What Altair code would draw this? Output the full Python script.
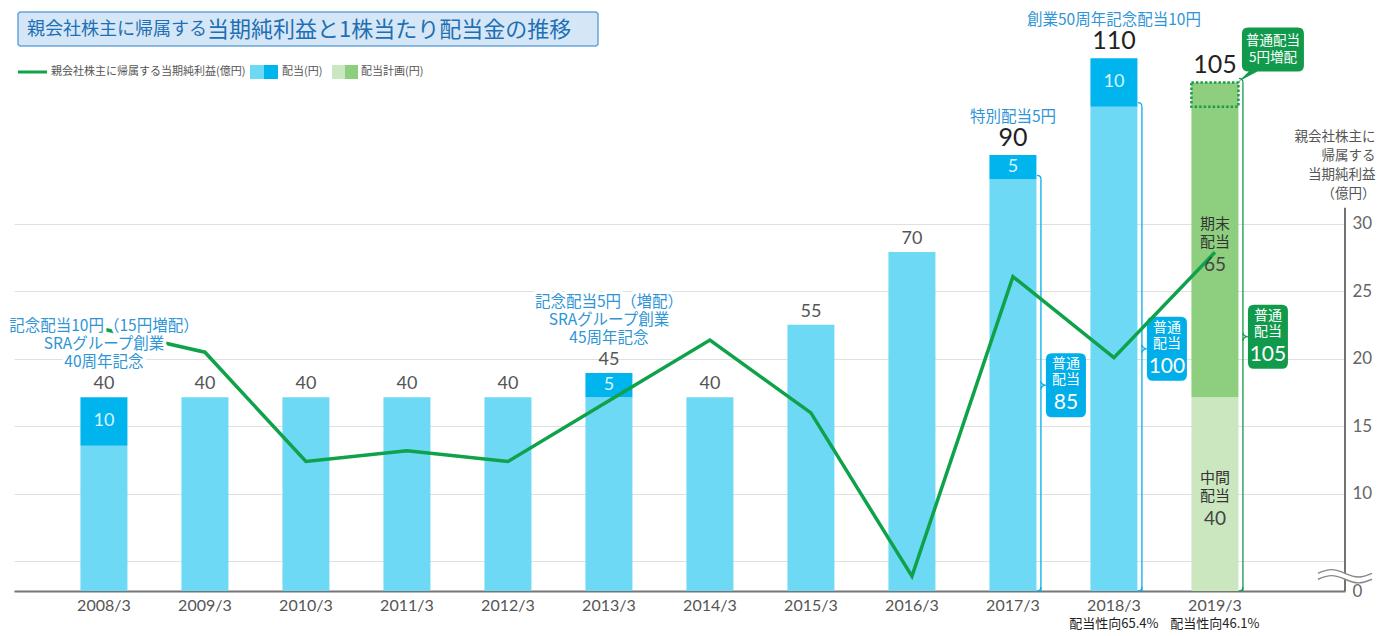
import altair as alt
import pandas as pd

# ---------------- data ----------------
years = ["2008/3", "2009/3", "2010/3", "2011/3", "2012/3", "2013/3",
         "2014/3", "2015/3", "2016/3", "2017/3", "2018/3", "2019/3"]
div_regular = [30, 40, 40, 40, 40, 40, 40, 55, 70, 85, 100, 0]      # 配当(円) 普通
div_special = [10, 0, 0, 0, 0, 5, 0, 0, 0, 5, 10, 0]                # 記念・特別配当(円)
plan_interim = [0, 0, 0, 0, 0, 0, 0, 0, 0, 0, 0, 40]                # 配当計画 中間
plan_final = [0, 0, 0, 0, 0, 0, 0, 0, 0, 0, 0, 65]                  # 配当計画 期末
net_income = [22.2, 20.5, 12.4, 13.2, 12.4, 16.9, 21.4, 16.0, 3.9, 26.1, 20.1, 27.9]  # 億円

note_years = ["2008/3", "2013/3", "2017/3", "2018/3"]
note_texts = ["記念配当10円（15円増配）\nSRAグループ創業\n40周年記念",
              "記念配当5円（増配）\nSRAグループ創業\n45周年記念",
              "特別配当5円",
              "創業50周年記念配当10円"]
regular_years = ["2017/3", "2018/3", "2019/3"]
payout_years = ["2018/3", "2019/3"]
payout_texts = ["配当性向65.4%", "配当性向46.1%"]
badge_word = "普通\n配当"
increase_text = "普通配当\n5円増配"
interim_word = "中間\n配当"
final_word = "期末\n配当"
seg_names = ["配当", "記念・特別配当", "中間配当（計画）", "期末配当（計画）"]
title_a = "親会社株主に帰属する"
title_b = "当期純利益と1株当たり配当金の推移"
legend_texts = ["親会社株主に帰属する当期純利益(億円)", "配当(円)", "配当計画(円)"]
axis_title = ["親会社株主に", "帰属する", "当期純利益", "（億円）"]

# ---------------- derived tables ----------------
totals = [a + b + c + d for a, b, c, d in zip(div_regular, div_special, plan_interim, plan_final)]
plan_year = [y for y, v in zip(years, plan_interim) if v > 0][0]

rows = []
for i, y in enumerate(years):
    for k, arr in enumerate([div_regular, div_special, plan_interim, plan_final]):
        if arr[i] > 0:
            rows.append(dict(year=y, seg=seg_names[k], value=arr[i], ord=k))
seg_df = pd.DataFrame(rows)

tot_df = pd.DataFrame(dict(year=years, total=totals))
spec_df = pd.DataFrame([dict(year=y, mid=totals[i] - div_special[i] / 2, t=str(div_special[i]))
                        for i, y in enumerate(years) if div_special[i] > 0])
pi = years.index(plan_year)
plan_df = pd.DataFrame([
    dict(year=plan_year, mid=plan_interim[pi] / 2, w=interim_word, t=str(plan_interim[pi])),
    dict(year=plan_year, mid=plan_interim[pi] + plan_final[pi] / 2, w=final_word, t=str(plan_final[pi])),
])
badge_rows = []
for y in regular_years:
    i = years.index(y)
    top = div_regular[i] if y != plan_year else totals[i]
    badge_rows.append(dict(year=y, top=top, mid=top / 2, label=str(top),
                           kind="plan" if y == plan_year else "actual"))
badge_df = pd.DataFrame(badge_rows)
prev_regular = div_regular[pi - 1]
dot_df = pd.DataFrame([dict(year=plan_year, lo=prev_regular, hi=totals[pi], total=totals[pi], t=increase_text)])
note_df = pd.DataFrame([dict(year=y, note=t, n=t.count("\n") + 1, total=totals[years.index(y)])
                        for y, t in zip(note_years, note_texts)])
ni_df = pd.DataFrame(dict(year=years, ni=net_income))
pay_df = pd.DataFrame(dict(year=payout_years, t=payout_texts))
one = pd.DataFrame({"k": [0]})

# ---------------- style ----------------
JP = "Noto Sans CJK JP"
NUM = "Lato"
W, H = 1331, 579
BLUE_L, BLUE_D, GREEN_L, GREEN_M = "#6dd9f5", "#00b4ee", "#cbe7bf", "#8ecf7f"
LINE_G = "#0ea24a"
BADGE_B, BADGE_G = "#00aeea", "#129a4c"
NOTE = "#2f95d6"

xsc = alt.Scale(domain=years, paddingInner=0.5347, paddingOuter=0.8565, align=0.384)
ybar = alt.Scale(domain=[0, 119.55], nice=False, zero=True)
yright = alt.Scale(domain=[2.81, 45.7], nice=False, zero=False)
kind_sc = alt.Scale(domain=["actual", "plan"], range=[BADGE_B, BADGE_G])

xaxis = alt.Axis(labelFont=NUM, labelFontSize=16, labelColor="#555", labelPadding=6,
                 ticks=False, domainColor="#777", domainWidth=2, grid=False, labelAngle=0, title=None)
right_axis = alt.Axis(orient="right", values=[2.81, 5, 10, 15, 20, 25, 30],
                      labelExpr="datum.value < 4 ? '0' : (datum.value == 5 ? '' : datum.label)",
                      grid=True, gridColor="#e0e0e0", gridWidth=1, domain=False, ticks=False,
                      labelFont=NUM, labelFontSize=17, labelColor="#666", labelPadding=7, labelFlush=False,
                      title=axis_title, titleAngle=0, titleAlign="right", titleBaseline="top",
                      titleX=30, titleY=117, titleFont=JP, titleFontSize=13.5, titleColor="#555",
                      titleFontWeight="normal", titleLineHeight=19)


def XE():
    return alt.X("year:N", scale=xsc, axis=xaxis, title=None)


def YB(field):
    return alt.Y(field, scale=ybar, axis=None)


def YR_datum(v):
    return alt.YDatum(v, type="quantitative", scale=yright, axis=right_axis)


BADGE = ("M-0.4375,-1 L0.4375,-1 Q0.625,-1 0.625,-0.8125 L0.625,0.8125 Q0.625,1 0.4375,1 "
         "L-0.4375,1 Q-0.625,1 -0.625,0.8125 L-0.625,-0.8125 Q-0.625,-1 -0.4375,-1 Z")
TOPBADGE = ("M-0.806,-0.71 L0.806,-0.71 Q1,-0.71 1,-0.516 L1,0.516 Q1,0.71 0.806,0.71 "
            "L-0.5,0.71 L-1.11,1.03 L-0.78,0.71 Q-1,0.71 -1,0.516 L-1,-0.516 Q-1,-0.71 -0.806,-0.71 Z")
CURL_TOP = "M-1,-1 Q0,-1 0,0"
CURL_BOT = "M0,-1 Q0,0 -1,0"
NOTCH = "M0,-1 Q0,-0.3 1,0 Q0,0.3 0,1"
BAND = ("M-1,-0.11 C-0.6,-0.29 -0.4,-0.29 0,-0.11 C0.4,0.07 0.6,0.07 1,-0.11 L1,0.11 "
        "C0.6,0.29 0.4,0.29 0,0.11 C-0.4,-0.07 -0.6,-0.07 -1,0.11 Z")
WAVES = ("M-1,-0.11 C-0.6,-0.29 -0.4,-0.29 0,-0.11 C0.4,0.07 0.6,0.07 1,-0.11 "
         "M-1,0.11 C-0.6,-0.07 -0.4,-0.07 0,0.11 C0.4,0.29 0.6,0.29 1,0.11")

BR_OFF, BADGE_OFF = 28, 53

# ---------------- bar group ----------------
bars = alt.Chart(seg_df).mark_bar().encode(
    x=XE(),
    y=alt.Y("value:Q", stack="zero", scale=ybar, axis=None),
    color=alt.Color("seg:N", scale=alt.Scale(domain=seg_names, range=[BLUE_L, BLUE_D, GREEN_L, GREEN_M]), legend=None),
    order=alt.Order("ord:Q"),
)
dotted = alt.Chart(dot_df).mark_bar(fillOpacity=0, stroke="#1f9a4a", strokeWidth=2.5, strokeDash=[2.5, 2]).encode(
    x=XE(), y=YB("lo:Q"), y2="hi:Q")
bar_base = alt.layer(bars, dotted)

kcol = alt.Color("kind:N", scale=kind_sc, legend=None)
br = alt.Chart(badge_df)
br_rule = br.mark_rule(strokeWidth=1.3, xOffset=BR_OFF).encode(x=XE(), y=YB("top:Q"), y2=alt.datum(0), color=kcol)
br_top = br.mark_point(shape=CURL_TOP, size=64, filled=False, strokeWidth=1.3, opacity=1, xOffset=BR_OFF).encode(
    x=XE(), y=YB("top:Q"), color=kcol)
br_bot = br.mark_point(shape=CURL_BOT, size=64, filled=False, strokeWidth=1.3, opacity=1, xOffset=BR_OFF).encode(
    x=XE(), y=alt.YDatum(0, type="quantitative", scale=ybar, axis=None), color=kcol)
br_notch = br.mark_point(shape=NOTCH, size=64, filled=False, strokeWidth=1.3, opacity=1, xOffset=BR_OFF).encode(
    x=XE(), y=YB("mid:Q"), color=kcol)
badge = br.mark_point(shape=BADGE, size=4096, filled=True, opacity=1, strokeWidth=0, xOffset=BADGE_OFF).encode(
    x=XE(), y=YB("mid:Q"), color=kcol)
badge_t1 = br.mark_text(font=JP, fontSize=14, color="white", lineBreak="\n", lineHeight=16,
                        baseline="middle", dy=-21, xOffset=BADGE_OFF).encode(
    x=XE(), y=YB("mid:Q"), text=alt.value(badge_word))
badge_t2 = br.mark_text(font=NUM, fontSize=21, color="white", baseline="middle", dy=18, xOffset=BADGE_OFF).encode(
    x=XE(), y=YB("mid:Q"), text="label:N")
tb = alt.Chart(dot_df)
top_badge = tb.mark_point(shape=TOPBADGE, size=3844, filled=True, opacity=1, strokeWidth=0, fill=BADGE_G,
                          xOffset=58, yOffset=-33).encode(x=XE(), y=YB("total:Q"))
top_badge_t = tb.mark_text(font=JP, fontSize=13.5, color="white", lineBreak="\n", lineHeight=17,
                           baseline="middle", xOffset=58, dy=-41.5).encode(x=XE(), y=YB("total:Q"), text="t:N")
badge_layer = alt.layer(br_rule, br_top, br_bot, br_notch, badge, badge_t1, badge_t2, top_badge, top_badge_t)

# ---------------- line group (right scale) ----------------
line = alt.Chart(ni_df).mark_line(color=LINE_G, strokeWidth=3.5).encode(
    x=XE(), y=alt.Y("ni:Q", scale=yright, axis=right_axis))
ax_rule = alt.Chart(one).mark_rule(color="#444", strokeWidth=1.5).encode(
    x=alt.value(W), y=YR_datum(31.2), y2=alt.datum(2.81))
brk_fill = alt.Chart(one).mark_point(shape=BAND, size=2916, filled=True, fill="white", opacity=1, strokeWidth=0).encode(
    x=alt.value(W), y=YR_datum(3.9))
brk_wave = alt.Chart(one).mark_point(shape=WAVES, size=2916, filled=False, stroke="#888", strokeWidth=1.4, opacity=1).encode(
    x=alt.value(W), y=YR_datum(3.9))
line_group = alt.layer(line, ax_rule, brk_fill, brk_wave)

# ---------------- labels group ----------------
nt = alt.Chart(note_df)
note_layers = []
for n_lines, dy in [(3, -71), (1, -38)]:
    src = nt.transform_filter(f"datum.n == {n_lines}")
    note_layers.append(src.mark_text(font=JP, fontSize=15.5, lineHeight=18, lineBreak="\n", baseline="middle",
                                     dy=dy, stroke="white", strokeWidth=7, strokeJoin="round", color="white").encode(
        x=XE(), y=YB("total:Q"), text="note:N"))
    note_layers.append(src.mark_text(font=JP, fontSize=15.5, lineHeight=18, lineBreak="\n", baseline="middle",
                                     dy=dy, color=NOTE).encode(x=XE(), y=YB("total:Q"), text="note:N"))
tt = alt.Chart(tot_df)
tot_small = tt.transform_filter("datum.total < 90").mark_text(font=NUM, fontSize=18, color="#555",
                                                              baseline="bottom", dy=-4).encode(
    x=XE(), y=YB("total:Q"), text="total:Q")
tot_big = tt.transform_filter("datum.total >= 90").mark_text(font=NUM, fontSize=25, color="#222",
                                                             baseline="bottom", dy=-4).encode(
    x=XE(), y=YB("total:Q"), text="total:Q")
spec_txt = alt.Chart(spec_df).mark_text(font=NUM, fontSize=18, color="#d8f6ff", baseline="middle").encode(
    x=XE(), y=YB("mid:Q"), text="t:N")
pl = alt.Chart(plan_df)
plan_w = pl.mark_text(font=JP, fontSize=15, color="#333", lineBreak="\n", lineHeight=18,
                      baseline="middle", dy=-16).encode(x=XE(), y=YB("mid:Q"), text="w:N")
plan_n = pl.mark_text(font=NUM, fontSize=19, color="#444", baseline="middle", dy=25).encode(
    x=XE(), y=YB("mid:Q"), text="t:N")
label_group = alt.layer(*note_layers, tot_small, tot_big, spec_txt, plan_w, plan_n)

# ---------------- decorations: title, legend, payout ----------------
od = alt.Chart(one)
title_box = od.mark_rect(fill="#d5e7f7", stroke="#67a6dc", strokeWidth=1.5, cornerRadius=3).encode(
    x=alt.value(4), x2=alt.value(584), y=alt.value(0), y2=alt.value(34))
title1 = od.mark_text(font=JP, fontSize=18, color="#1e6fb4", align="left", baseline="middle").encode(
    x=alt.value(13), y=alt.value(18), text=alt.value(title_a))
title2 = od.mark_text(font=JP, fontSize=22, color="#1e6fb4", align="left", baseline="middle").encode(
    x=alt.value(193), y=alt.value(17.5), text=alt.value(title_b))
leg_line = od.mark_rule(color=LINE_G, strokeWidth=3).encode(x=alt.value(4), x2=alt.value(33), y=alt.value(60))
leg_t1 = od.mark_text(font=JP, fontSize=11, color="#555", align="left", baseline="middle").encode(
    x=alt.value(37), y=alt.value(60), text=alt.value(legend_texts[0]))
leg_b1 = od.mark_rect(fill=BLUE_L).encode(x=alt.value(236), x2=alt.value(250), y=alt.value(53), y2=alt.value(67))
leg_b2 = od.mark_rect(fill=BLUE_D).encode(x=alt.value(250), x2=alt.value(264), y=alt.value(53), y2=alt.value(67))
leg_t2 = od.mark_text(font=JP, fontSize=11, color="#555", align="left", baseline="middle").encode(
    x=alt.value(268), y=alt.value(60), text=alt.value(legend_texts[1]))
leg_g1 = od.mark_rect(fill=GREEN_L).encode(x=alt.value(318), x2=alt.value(331), y=alt.value(53), y2=alt.value(67))
leg_g2 = od.mark_rect(fill=GREEN_M).encode(x=alt.value(331), x2=alt.value(344), y=alt.value(53), y2=alt.value(67))
leg_t3 = od.mark_text(font=JP, fontSize=11, color="#555", align="left", baseline="middle").encode(
    x=alt.value(347), y=alt.value(60), text=alt.value(legend_texts[2]))
payout = alt.Chart(pay_df).mark_text(font=JP, fontSize=13, color="#222", baseline="middle").encode(
    x=XE(), y=alt.value(612), text="t:N")
deco_group = alt.layer(title_box, title1, title2, leg_line, leg_t1, leg_b1, leg_b2, leg_t2,
                       leg_g1, leg_g2, leg_t3, payout)

chart = alt.layer(bar_base, badge_layer, line_group, label_group, deco_group).resolve_scale(
    y="independent", color="independent"
).properties(
    width=W, height=H,
    padding={"left": 6, "top": 4, "right": 32, "bottom": 45},
    autosize=alt.AutoSizeParams(type="none"),
    background="white",
).configure_view(stroke=None)

chart.save("out.html", embed_options={"renderer": "svg", "actions": False})
